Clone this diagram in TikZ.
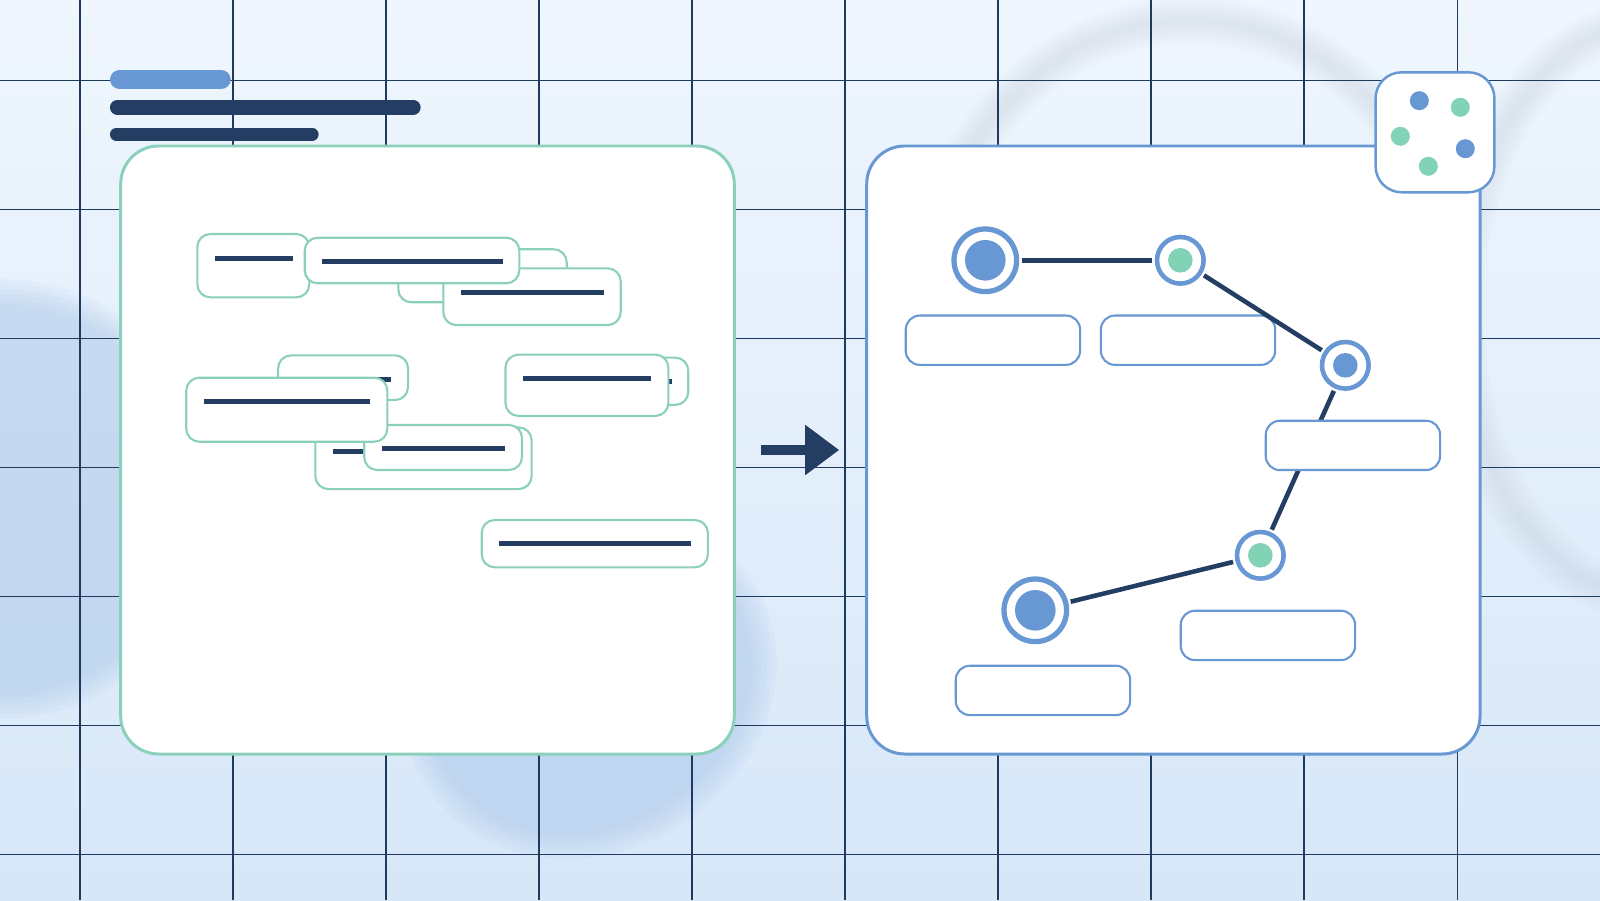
\documentclass[tikz,border=0pt]{standalone}
\usepackage{tikz}
\usetikzlibrary{arrows.meta, positioning}

\definecolor{gridnavy}{HTML}{1F3A5F}
\definecolor{inkdark}{HTML}{243D63}
\definecolor{mint}{HTML}{8BD0BA}
\definecolor{mintdot}{HTML}{82D2B5}
\definecolor{softblue}{HTML}{6898D4}
\definecolor{bgtop}{HTML}{EFF6FD}
\definecolor{bgbot}{HTML}{D7E7F8}
\definecolor{blobblue}{HTML}{A8C6EA}
\definecolor{ringgrey}{HTML}{A9B3C0}

\tikzset{
  gridrule/.style={gridnavy, line width=0.3pt},
  panel/.style={line width=0.85pt, fill=white, rounded corners=3.8mm, inner sep=0pt},
  snip/.style={draw=mint, line width=0.6pt, fill=white, rounded corners=1.3mm, inner sep=0pt},
  snipline/.style={inkdark, line width=1.35pt},
  tag/.style={draw=softblue, line width=0.6pt, fill=white, rounded corners=1.4mm,
    minimum width=1.743cm, minimum height=0.493cm, inner sep=0pt},
  hub/.style={circle, draw=softblue, line width=1.5pt, fill=white, minimum size=0.626cm, inner sep=0pt,
    path picture={\fill[#1] (path picture bounding box.center) circle (0.203);}},
  waypt/.style={circle, draw=softblue, line width=1.3pt, fill=white, minimum size=0.466cm, inner sep=0pt,
    path picture={\fill[#1] (path picture bounding box.center) circle (0.123);}},
  trail/.style={inkdark, line width=1.3pt, shorten <=0.7pt, shorten >=0.7pt}
}

\begin{document}
\begin{tikzpicture}[>=latex]
  \useasboundingbox (0,0) rectangle (16,9);
  % Backdrop
  \shade[top color=bgtop, bottom color=bgbot] (0,0) rectangle (16,9);
  \begin{scope}
    \clip (0,0) rectangle (16,9);
    % Soft blobs
    \foreach \k in {0,...,5} {
      \fill[blobblue, opacity=0.10] (0,4.01) circle ({1.95+0.05*\k});
      \fill[blobblue, opacity=0.10, rotate around={30:(5.9,2.15)}] (5.9,2.15) ellipse ({1.68+0.05*\k} and {1.42+0.05*\k});
    }
    % Faint rings
    \foreach \k in {1,...,6} {
      \draw[ringgrey, opacity=0.035, line width={2.2pt*\k}] (11.9,5.7) ellipse (2.7 and 3.1);
      \draw[ringgrey, opacity=0.035, line width={2.2pt*\k}] (16.6,5.9) ellipse (2.0 and 2.9);
    }
  \end{scope}
  % Grid
  \foreach \gx in {0,...,9}
    \draw[gridrule] ({0.80+1.53*\gx},0) -- ({0.80+1.53*\gx},9);
  \foreach \gy in {0,...,6}
    \draw[gridrule] (0,{8.195-1.29*\gy}) -- (16,{8.195-1.29*\gy});

  % Heading bars
  \draw[softblue, line width=1.9mm, line cap=round] (1.195,8.205) -- (2.212,8.205);
  \draw[inkdark, line width=1.47mm, line cap=round] (1.173,7.927) -- (4.133,7.927);
  \draw[inkdark, line width=1.27mm, line cap=round] (1.163,7.657) -- (3.123,7.657);

  % Panels
  \node[panel, draw=mint, minimum width=6.136cm, minimum height=6.08cm] (messy) at (4.275,4.5) {};
  \node[panel, draw=softblue, minimum width=6.133cm, minimum height=6.08cm] (graph) at (11.7335,4.5) {};

  % Scattered snippets (back to front)
  \node[snip, minimum width=1.12cm, minimum height=0.633cm] (sa) at (2.533,6.343) {};
  \draw[snipline] (2.15,6.417) -- (2.93,6.417);
  \node[snip, minimum width=1.684cm, minimum height=0.53cm] (sc) at (4.825,6.242) {};
  \node[snip, minimum width=1.774cm, minimum height=0.567cm] (sd) at (5.32,6.033) {};
  \draw[snipline] (4.61,6.077) -- (6.04,6.077);
  \node[snip, minimum width=2.146cm, minimum height=0.456cm] (sb) at (4.12,6.395) {};
  \draw[snipline] (3.22,6.387) -- (5.03,6.387);
  \node[snip, minimum width=1.299cm, minimum height=0.447cm] (se) at (3.431,5.223) {};
  \draw[snipline] (2.96,5.207) -- (3.907,5.207);
  \node[snip, minimum width=2.163cm, minimum height=0.617cm] (si) at (4.235,4.418) {};
  \draw[snipline] (3.329,4.487) -- (5.0,4.487);
  \node[snip, minimum width=1.578cm, minimum height=0.45cm] (sj) at (4.431,4.525) {};
  \draw[snipline] (3.821,4.517) -- (5.051,4.517);
  \node[snip, minimum width=2.011cm, minimum height=0.64cm] (sf) at (2.868,4.903) {};
  \draw[snipline] (2.041,4.987) -- (3.701,4.987);
  \node[snip, minimum width=1.583cm, minimum height=0.473cm] (sh) at (6.091,5.187) {};
  \draw[snipline] (5.45,5.187) -- (6.72,5.187);
  \node[snip, minimum width=1.629cm, minimum height=0.613cm] (sg) at (5.869,5.147) {};
  \draw[snipline] (5.23,5.217) -- (6.511,5.217);
  \node[snip, minimum width=2.262cm, minimum height=0.473cm] (sk) at (5.948,3.5635) {};
  \draw[snipline] (4.989,3.567) -- (6.91,3.567);

  % Arrow between panels
  \draw[inkdark, line width=1mm, -{Triangle[length=3.4mm, width=4.8mm]},
    shorten <=2.55mm, shorten >=2.6mm] (messy.east) -- (graph.west);

  % Legend card
  \node[panel, draw=softblue, line width=0.7pt, rounded corners=2.6mm,
    minimum width=1.188cm, minimum height=1.2cm] (legend) at (14.35,7.677) {};
  \fill[softblue] (14.193,7.993) circle (0.095);
  \fill[mintdot] (14.603,7.927) circle (0.095);
  \fill[mintdot] (14.003,7.637) circle (0.095);
  \fill[softblue] (14.653,7.513) circle (0.095);
  \fill[mintdot] (14.283,7.337) circle (0.095);

  % Ordered path
  \node[hub=softblue] (n1) at (9.853,6.397) {};
  \node[waypt=mintdot] (n2) at (11.803,6.397) {};
  \node[waypt=softblue] (n3) at (13.453,5.347) {};
  \node[waypt=mintdot] (n4) at (12.603,3.447) {};
  \node[hub=softblue] (n5) at (10.353,2.897) {};
  \node[tag] (t1) at (9.929,5.598) {};
  \node[tag] (t2) at (11.88,5.598) {};
  \foreach \a/\b in {n1/n2, n2/n3, n3/n4, n4/n5}
    \draw[trail] (\a) -- (\b);
  \node[tag] (t3) at (13.529,4.546) {};
  \node[tag] (t4) at (12.679,2.646) {};
  \node[tag] (t5) at (10.429,2.096) {};
\end{tikzpicture}
\end{document}
